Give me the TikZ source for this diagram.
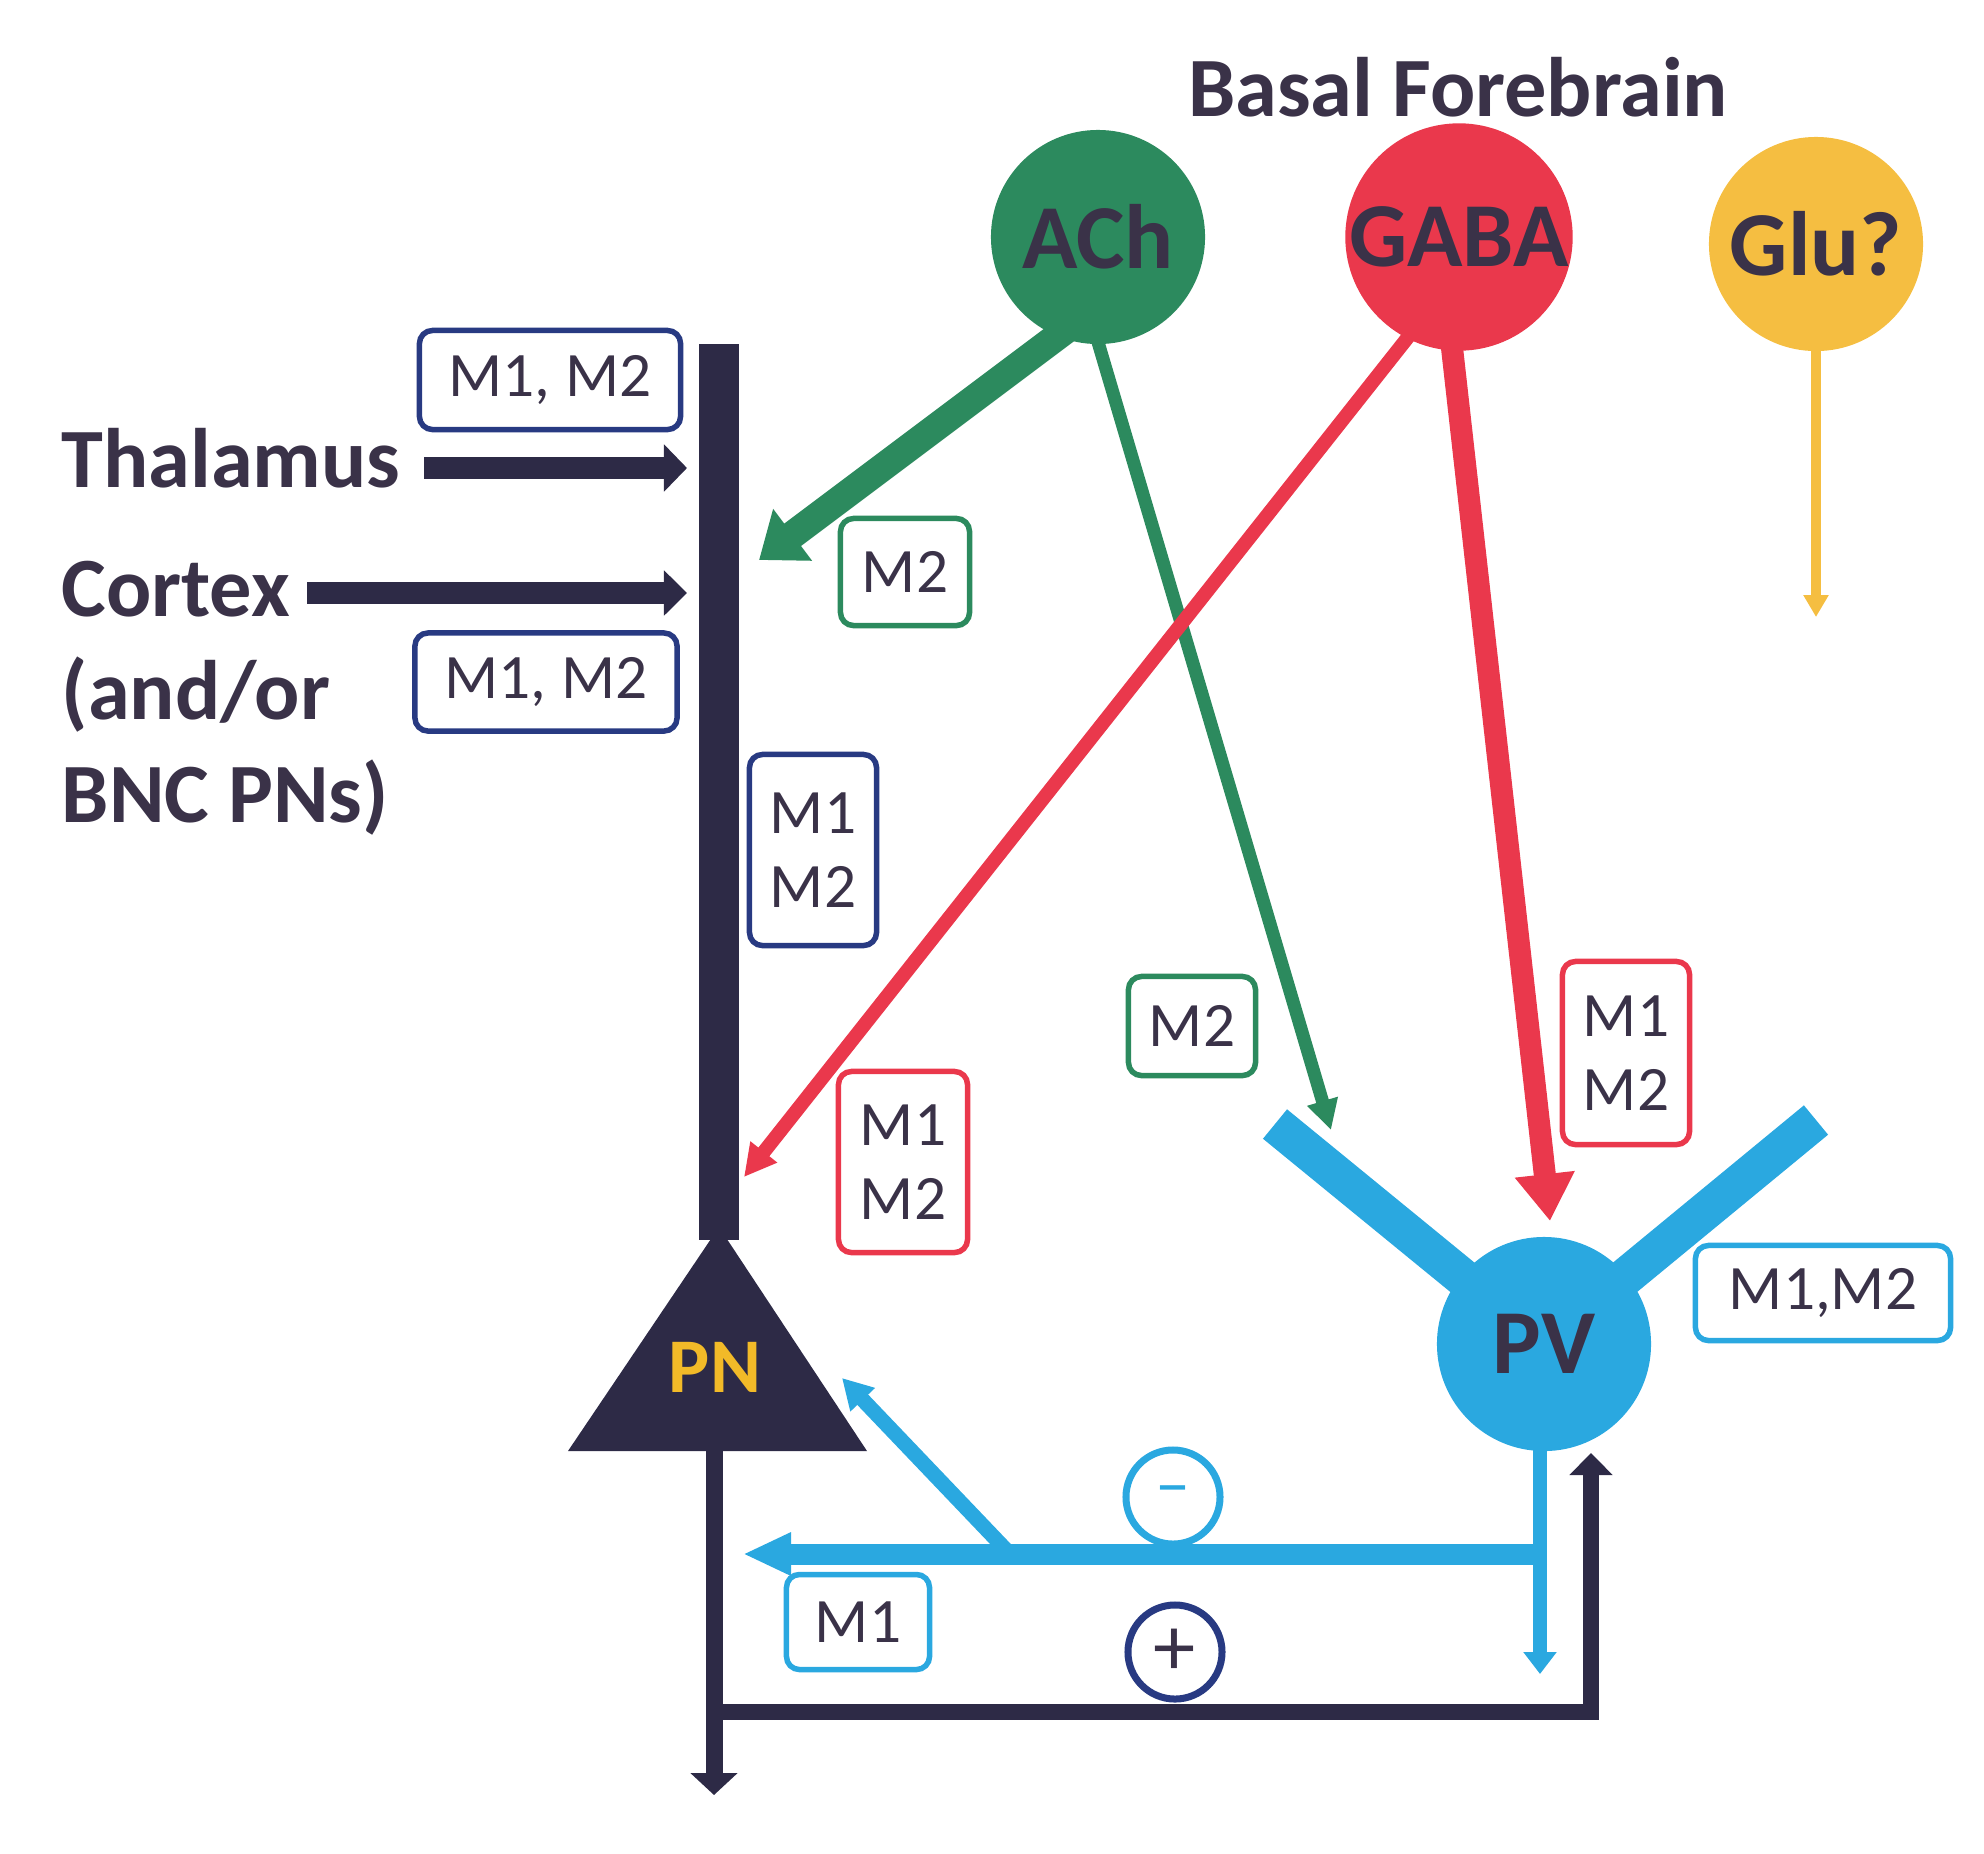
\documentclass[tikz,border=0pt]{standalone}
\usepackage{fontspec}
\setmainfont{Carlito}
\usetikzlibrary{arrows.meta,backgrounds,calc}
\definecolor{dk}{RGB}{45,42,70}
\definecolor{navy}{RGB}{40,58,130}
\definecolor{txt}{RGB}{58,50,72}
\definecolor{grn}{RGB}{44,138,94}
\definecolor{rd}{RGB}{234,56,76}
\definecolor{yl}{RGB}{245,190,65}
\definecolor{lb}{RGB}{42,168,224}
\definecolor{pny}{RGB}{242,186,40}
\begin{document}
\begin{tikzpicture}[x=0.01cm,y=-0.01cm,
  big/.style={font=\fontsize{24}{26}\selectfont\bfseries, text=txt, inner sep=0pt},
  cell/.style={circle, minimum size=2.14cm, inner sep=0pt, font=\fontsize{26}{28}\selectfont\bfseries, text=txt},
  mbox/.style={draw=#1, line width=0.055cm, rounded corners=0.13cm, align=center, inner sep=0pt, font=\fontsize{18}{21}\selectfont, text=txt},
  sign/.style={circle, draw=#1, line width=0.07cm, minimum size=0.94cm, inner sep=0pt},
]
\path[use as bounding box] (0,0) rectangle (1984,1853);

% ---------- text labels ----------
\node[big, anchor=base] (bf) at (1458,116) {Basal Forebrain};
\node[big, anchor=base west] (thal) at (61,487) {Thalamus};
\node[big, anchor=base west] (ctx) at (61,616) {Cortex};
\node[big, anchor=base west] (andor) at (61,719) {(and/or};
\node[big, anchor=base west] (bnc) at (61,822) {BNC PNs)};

% ---------- cells ----------
\node[cell, fill=grn] (ACh) at (1098,237) {ACh};
\node[cell, fill=rd] (GABA) at (1459,237) {GABA};
\node[cell, fill=yl] (Glu) at (1816,244) {Glu?};
\node[cell, fill=lb] (PV) at (1544,1344) {PV};

% PN triangle
\coordinate (PNapex) at (719,1227);
\coordinate (PNbl) at (568,1451);
\coordinate (PNbr) at (867,1451);
\fill[dk] (PNapex) -- (PNbr) -- (PNbl) -- cycle;
\node[font=\fontsize{22}{24}\selectfont\bfseries, text=pny] (PN) at (715,1367) {PN};

% ---------- receptor boxes ----------
\node[mbox=navy, minimum width=2.61cm, minimum height=0.99cm] (b1) at (550,380) {M1, M2};
\node[mbox=navy, minimum width=2.62cm, minimum height=0.98cm] (b2) at (546,682) {M1, M2};
\node[mbox=navy, minimum width=1.27cm, minimum height=1.91cm] (b3) at (813,850) {M1\\M2};
\node[mbox=grn, minimum width=1.29cm, minimum height=1.07cm] (b4) at (905,572) {M2};
\node[mbox=grn, minimum width=1.27cm, minimum height=0.99cm] (b5) at (1192,1026) {M2};
\node[mbox=rd, minimum width=1.29cm, minimum height=1.81cm] (b6) at (903,1162) {M1\\M2};
\node[mbox=rd, minimum width=1.27cm, minimum height=1.83cm] (b7) at (1626,1053) {M1\\M2};
\node[mbox=lb, minimum width=2.55cm, minimum height=0.95cm] (b8) at (1823,1293) {M1,M2};
\node[mbox=lb, minimum width=1.43cm, minimum height=0.95cm] (b9) at (858,1622) {M1};

% ---------- signs ----------
\node[sign=lb, font=\fontsize{20}{22}\selectfont, text=lb] (minus) at (1173,1497) {–};
\node[sign=navy, font=\fontsize{24}{26}\selectfont, text=txt] (plus) at (1175,1652) {+};

% ---------- coordinates ----------
\coordinate (dtop) at (719,344);
\coordinate (dbot) at (719,1240);
\coordinate (thalS) at (424,468);
\coordinate (thalE) at (687,468);
\coordinate (ctxS) at (307,593);
\coordinate (ctxE) at (687,593);
\coordinate (g1s) at (1087,314);
\coordinate (g1e) at (759,560);
\coordinate (g2s) at (1090,315);
\coordinate (g2e) at (1331,1130);
\coordinate (r1s) at (1420,322);
\coordinate (r1e) at (744,1177);
\coordinate (r2s) at (1450,330);
\coordinate (r2e) at (1550,1221);
\coordinate (glue) at (1816,617);
\coordinate (pvdl) at (1275,1124);
\coordinate (pvdr) at (1816,1120);
\coordinate (pvds) at (1540,1420);
\coordinate (pvde) at (1540,1674);
\coordinate (lbR) at (1547,1554);
\coordinate (lbL) at (743,1554);
\coordinate (lbD) at (1010,1554);
\coordinate (lbT) at (842,1378);
\coordinate (axS) at (714,1440);
\coordinate (axE) at (714,1795);
\coordinate (lpL) at (714,1712);
\coordinate (lpR) at (1591,1712);
\coordinate (lpT) at (1591,1453);

\begin{pgfonlayer}{background}
% PN dendrite and axon
\draw[dk, line width=0.40cm] (dtop) -- (dbot);
\draw[dk, line width=0.17cm, -{Triangle[width=0.46cm,length=0.22cm]}] (axS) -- (axE);
\draw[dk, line width=0.16cm, -{Triangle[width=0.42cm,length=0.22cm]}] (lpL) -- (lpR) -- (lpT);
% inputs
\draw[dk, line width=0.22cm, -{Triangle[width=0.46cm,length=0.23cm]}] (thalS) -- (thalE);
\draw[dk, line width=0.22cm, -{Triangle[width=0.44cm,length=0.23cm]}] (ctxS) -- (ctxE);
% PV dendrites
\draw[lb, line width=0.38cm] (pvdl) -- (PV.center);
\draw[lb, line width=0.38cm] (pvdr) -- (PV.center);
% PV outputs
\draw[lb, line width=0.14cm, -{Triangle[width=0.32cm,length=0.22cm]}] (pvds) -- (pvde);
\draw[lb, line width=0.21cm, -{Triangle[width=0.40cm,length=0.48cm]}] (lbR) -- (lbL);
\draw[lb, line width=0.15cm, -{Triangle[width=0.32cm,length=0.30cm]}] (lbD) -- (lbT);
% basal forebrain projections
\draw[grn, line width=0.28cm, -{Triangle[width=0.62cm,length=0.42cm]}] (g1s) -- (g1e);
\draw[grn, line width=0.13cm, -{Triangle[width=0.30cm,length=0.30cm]}] (g2s) -- (g2e);
\draw[rd, line width=0.14cm, -{Triangle[width=0.32cm,length=0.32cm]}] (r1s) -- (r1e);
\draw[rd, line width=0.22cm, -{Triangle[width=0.57cm,length=0.47cm]}] (r2s) -- (r2e);
\draw[yl, line width=0.10cm, -{Triangle[width=0.24cm,length=0.22cm]}] (Glu.center) -- (glue);
\end{pgfonlayer}
\end{tikzpicture}
\end{document}
